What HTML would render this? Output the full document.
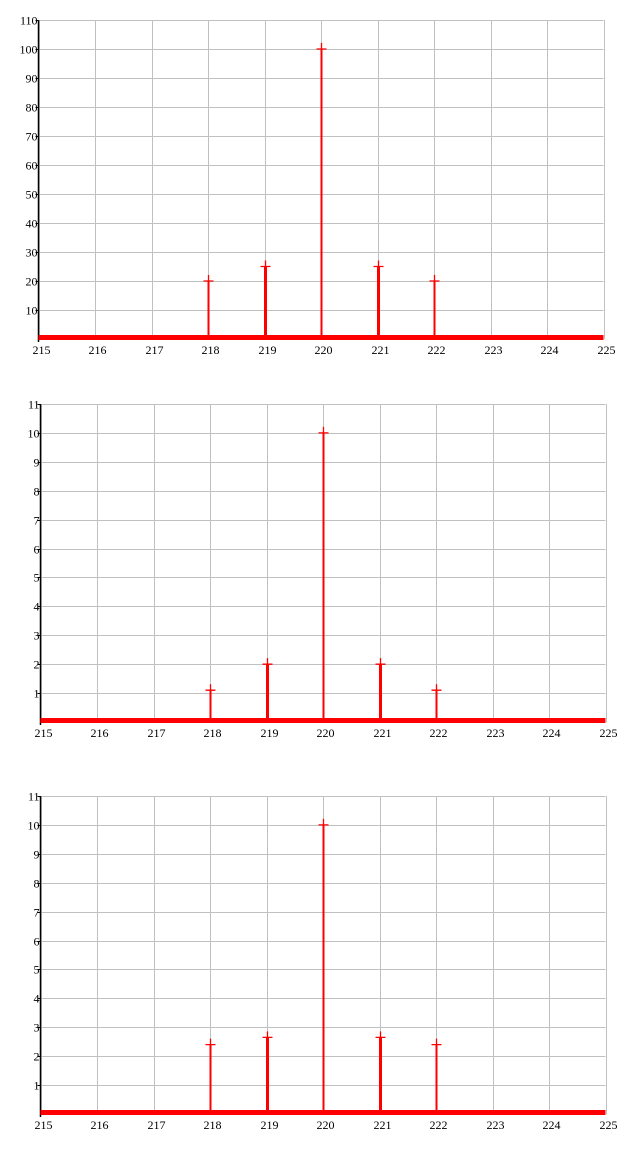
<!DOCTYPE html>
<html><head><meta charset="utf-8"><style>
html,body{margin:0;padding:0;background:#fff;}
svg{display:block;font-family:"Liberation Serif",serif;font-size:12px;}
</style></head><body>
<svg id="s" width="640" height="1169"></svg>
<script>
const categories=[218,219,220,221,222];
const series1=[20,25,100,25,20];
const series2=[1.1,2.0,10,2.0,1.1];
const series3=[2.4,2.65,10,2.65,2.4];
const xTicks=[215,216,217,218,219,220,221,222,223,224,225];
const yTicks1=[10,20,30,40,50,60,70,80,90,100,110];
const yTicks2=[1,2,3,4,5,6,7,8,9,10,11];
const yTicks3=[1,2,3,4,5,6,7,8,9,10,11];
const NS="http://www.w3.org/2000/svg";
const svg=document.getElementById('s');
function el(t,a,p){const e=document.createElementNS(NS,t);for(const k in a)e.setAttribute(k,a[k]);(p||svg).appendChild(e);return e;}
const charts=[
 {L:38.5,R:603.5,T:20,B:339,ymax:110,vals:series1,yt:yTicks1,name:'chart-1'},
 {L:40.5,R:605.5,T:404,B:722,ymax:11,vals:series2,yt:yTicks2,name:'chart-2'},
 {L:40.5,R:605.5,T:796,B:1114,ymax:11,vals:series3,yt:yTicks3,name:'chart-3'}
];
const widths=[2,3,2,3,2];
charts.forEach(c=>{
 const g=el('g',{});
 
 
 const xs=v=>c.L+(v-215)/(225-215)*(c.R-c.L);
 const ys=v=>c.B-v/c.ymax*(c.B-c.T);
 xTicks.forEach(t=>{
  const x=Math.round(xs(t))+0.5;
  const l=el('line',{x1:x,x2:x,y1:c.T,y2:c.B,stroke:'#c0c0c0','stroke-width':1},g);
  
  
  const tx=el('text',{x:x+2,y:c.B+15,'text-anchor':'middle',fill:'#000'},g);
  tx.textContent=t;
  
  
 });
 c.yt.forEach(t=>{
  const y=Math.round(ys(t))+0.5;
  const l=el('line',{x1:c.L,x2:c.R,y1:y,y2:y,stroke:'#c0c0c0','stroke-width':1},g);
  
  
  el('line',{x1:c.L-3,x2:c.L,y1:y,y2:y,stroke:'#000'},g);
  const tx=el('text',{x:c.L-1,y:y+4,'text-anchor':'end',fill:'#000'},g);
  tx.textContent=t;
  
  
 });
 const ax=el('line',{x1:c.L,x2:c.L,y1:c.T,y2:c.B+3,stroke:'#000','stroke-width':1.5},g);
 
 
 const base=el('rect',{x:c.L,y:c.B-4,width:c.R-c.L,height:5,fill:'#ff0000'},g);
 
 
 categories.forEach((cat,i)=>{
  const x=Math.round(xs(cat))+0.5;
  const y=ys(c.vals[i]);
  const b=el('line',{x1:x,x2:x,y1:y,y2:c.B,stroke:'#ff0000','stroke-width':widths[i]},g);
  
  
  const m=el('path',{d:`M${x-5},${y}H${x+5}M${x},${y-6}V${y+4}`,stroke:'#ff0000','stroke-width':1.3,fill:'none'},g);
  
  
 });
});
</script>
</body></html>
